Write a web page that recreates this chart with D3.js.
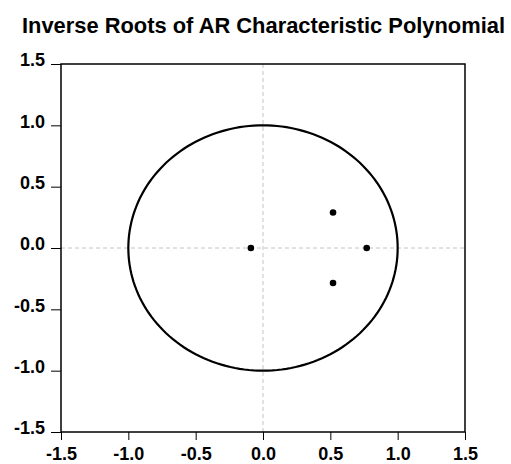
<!DOCTYPE html>
<html><head><meta charset="utf-8">
<script src="https://cdn.jsdelivr.net/npm/d3@7"></script>
<style>body{margin:0;background:#fff}svg{display:block}</style>
</head><body>
<script>
const title = "Inverse Roots of AR Characteristic Polynomial";
const tickValues = [-1.5, -1.0, -0.5, 0.0, 0.5, 1.0, 1.5];
const rootsRe = [-0.09, 0.52, 0.52, 0.77];
const rootsIm = [0.0, 0.29, -0.285, 0.0];

const W = 511, H = 464;
const m = {left: 61, right: 465, top: 64, bottom: 432};
const svg = d3.select("body").append("svg").attr("width", W).attr("height", H);
const x = d3.scaleLinear().domain([-1.5, 1.5]).range([m.left, m.right]);
const y = d3.scaleLinear().domain([-1.5, 1.5]).range([m.bottom, m.top]);

svg.append("text").attr("x", 263.5).attr("y", 33.3).attr("text-anchor", "middle")
  .attr("font-family", "Liberation Sans, Arial, sans-serif").attr("font-weight", "bold")
  .attr("font-size", 21.5).attr("textLength", 483).attr("lengthAdjust", "spacingAndGlyphs")
  .text(title);

// zero lines
svg.append("line").attr("x1", x(0)).attr("x2", x(0)).attr("y1", m.top).attr("y2", m.bottom)
  .attr("stroke", "#c4c4c4").attr("stroke-dasharray", "4,3");
svg.append("line").attr("x1", m.left).attr("x2", m.right).attr("y1", y(0)).attr("y2", y(0))
  .attr("stroke", "#c4c4c4").attr("stroke-dasharray", "4,3");

// unit circle
const circ = d3.range(0, 361, 2).map(a => [Math.cos(a*Math.PI/180), Math.sin(a*Math.PI/180)]);
svg.append("path").datum(circ)
  .attr("d", d3.line().x(d => x(d[0])).y(d => y(d[1])).curve(d3.curveLinearClosed))
  .attr("fill", "none").attr("stroke", "#000").attr("stroke-width", 2.2);

// points
svg.selectAll("circle.pt").data(rootsRe.map((r, i) => [r, rootsIm[i]])).enter()
  .append("circle").attr("cx", d => x(d[0])).attr("cy", d => y(d[1])).attr("r", 3.3).attr("fill", "#000");

// frame
svg.append("rect").attr("x", m.left).attr("y", m.top).attr("width", m.right - m.left)
  .attr("height", m.bottom - m.top).attr("fill", "none").attr("stroke", "#000").attr("stroke-width", 1.5);

const fmt = d => d.toFixed(1);
const ax = svg.append("g").attr("transform", `translate(0,${m.bottom})`)
  .call(d3.axisBottom(x).tickValues(tickValues).tickFormat(fmt).tickSize(8).tickPadding(7));
const ay = svg.append("g").attr("transform", `translate(${m.left},0)`)
  .call(d3.axisLeft(y).tickValues(tickValues).tickFormat(fmt).tickSize(10).tickPadding(6));
[ax, ay].forEach(g => {
  g.select(".domain").remove();
  g.selectAll("line").attr("stroke", "#000");
  g.selectAll("text").attr("font-family", "Liberation Sans, Arial, sans-serif")
    .attr("font-weight", "bold").attr("font-size", 18).attr("fill", "#000");
});
ay.selectAll("text").attr("dy", "0.1em");
</script>
</body></html>
